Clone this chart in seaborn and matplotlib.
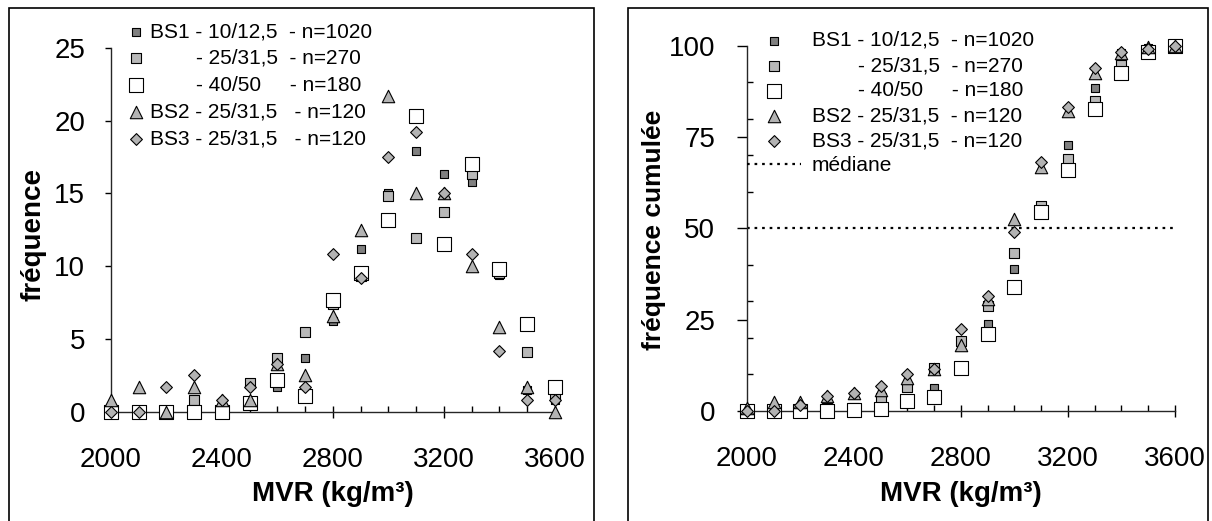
import numpy as np
import matplotlib
matplotlib.use("Agg")
import matplotlib.pyplot as plt
from matplotlib.patches import Rectangle
from matplotlib.ticker import MultipleLocator
import seaborn as sns

# ---------- data ----------
mvr = [2000, 2100, 2200, 2300, 2400, 2500, 2600, 2700, 2800,
       2900, 3000, 3100, 3200, 3300, 3400, 3500, 3600]

# frequency (%) per class
bs1_10 = [0, 0, 0, 0, 0, 0.7, 1.7, 3.7, 6.2, 11.2, 15.0, 17.9, 16.3, 15.8, 9.4, 1.5, 0.8]
bs1_25 = [0, 0, 0, 0.8, 0, 2.0, 3.7, 5.5, 7.4, 9.3, 14.8, 11.9, 13.7, 16.3, 9.5, 4.1, 1.2]
bs1_40 = [0, 0, 0, 0, 0, 0.6, 2.2, 1.1, 7.7, 9.5, 13.2, 20.3, 11.5, 17.0, 9.8, 6.0, 1.7]
bs2_25 = [0.8, 1.7, 0, 1.7, 0.8, 0.8, 3.3, 2.5, 6.6, 12.5, 21.7, 15.0, 15.0, 10.0, 5.8, 1.7, 0]
bs3_25 = [0, 0, 1.7, 2.5, 0.8, 1.7, 3.3, 1.7, 10.8, 9.2, 17.5, 19.2, 15.0, 10.8, 4.2, 0.8, 0.8]

# cumulative frequency (%)
cum_bs1_10 = [0, 0, 0, 0, 0, 0.7, 2.4, 6.4, 12.3, 23.8, 38.8, 56.2, 72.8, 88.5, 97.9, 99.3, 100]
cum_bs1_25 = [0, 0, 0, 0.8, 0.8, 3.5, 6.7, 11.9, 19.2, 28.7, 43.3, 56.2, 68.9, 84.9, 94.7, 98.6, 100]
cum_bs1_40 = [0, 0, 0, 0, 0.3, 0.5, 2.8, 3.9, 11.7, 21.1, 34.0, 54.4, 66.0, 82.7, 92.4, 98.4, 100]
cum_bs2_25 = [0.8, 2.5, 2.5, 4.2, 5.0, 5.8, 9.1, 11.6, 18.1, 30.6, 52.5, 66.9, 82.0, 92.4, 97.9, 99.7, 100]
cum_bs3_25 = [0, 0, 1.6, 4.2, 5.0, 6.8, 10.1, 11.5, 22.4, 31.6, 49.1, 68.2, 83.3, 94.0, 98.4, 99.1, 100]
median_level = 50

labels_left = ["BS1 - 10/12,5  - n=1020",
               "        - 25/31,5  - n=270",
               "        - 40/50     - n=180",
               "BS2 - 25/31,5   - n=120",
               "BS3 - 25/31,5   - n=120"]
labels_right = ["BS1 - 10/12,5  - n=1020",
                "        - 25/31,5  - n=270",
                "        - 40/50     - n=180",
                "BS2 - 25/31,5  - n=120",
                "BS3 - 25/31,5  - n=120"]

# marker styles: (marker, size, fill)
styles = [("s", 28, "#808080"),
          ("s", 58, "#b8b8b8"),
          ("s", 90, "#ffffff"),
          ("^", 80, "#b3b3b3"),
          ("D", 36, "#b3b3b3")]

sns.set_style("ticks")
plt.rcParams.update({
    "font.family": ["Liberation Sans", "DejaVu Sans"],
    "axes.linewidth": 1.0,
    "text.color": "black", "axes.labelcolor": "black",
    "xtick.color": "black", "ytick.color": "black",
})

fig = plt.figure(figsize=(12.12, 5.21), dpi=100)
ax1 = fig.add_axes([0.0801, 0.1818, 0.3892, 0.7825])
ax2 = fig.add_axes([0.6053, 0.1831, 0.3752, 0.7852])

# panel frames (open at the bottom, like the cropped original)
for x0, x1 in [(9, 594), (628, 1208)]:
    fig.add_artist(Rectangle((x0 / 1212, -0.1), (x1 - x0) / 1212, 1.1 - 7.5 / 521,
                             transform=fig.transFigure, fill=False,
                             lw=1.2, ec="black"))


def draw(ax, series, labels):
    for y, lab, (mk, sz, fc) in zip(series, labels, styles):
        sns.scatterplot(x=mvr, y=y, marker=mk, s=sz, color=fc, edgecolor="black",
                        linewidth=0.8, ax=ax, label=lab, zorder=3, clip_on=False)


def style_axes(ax, ymax, ylim, ymajor, ymaj_len, ymaj_pad, yminor=None):
    ax.set_xlim(1950, 3650)
    ax.set_ylim(*ylim)
    for s in ["top", "right"]:
        ax.spines[s].set_visible(False)
    ax.spines["left"].set_position(("data", 2000))
    ax.spines["left"].set_bounds(0, ymax)
    ax.spines["bottom"].set_position(("data", 0))
    ax.spines["bottom"].set_bounds(2000, 3600)
    ax.xaxis.set_major_locator(MultipleLocator(400))
    ax.xaxis.set_minor_locator(MultipleLocator(100))
    ax.yaxis.set_major_locator(MultipleLocator(ymajor))
    if yminor:
        ax.yaxis.set_minor_locator(MultipleLocator(yminor))
        ax.tick_params(axis="y", which="minor", direction="in", length=4.5, width=1)
    ax.tick_params(axis="x", which="major", direction="inout", length=9, width=1,
                   pad=21, labelsize=20)
    ax.tick_params(axis="x", which="minor", direction="in", length=4.5, width=1)
    ax.tick_params(axis="y", which="major", direction="out", length=ymaj_len, width=1,
                   pad=ymaj_pad, labelsize=20)
    ax.set_xlabel("MVR (kg/m³)", fontsize=20, fontweight="bold")
    ax.xaxis.set_label_coords(0.5, -0.135)


# ---------- left: frequency ----------
draw(ax1, [bs1_10, bs1_25, bs1_40, bs2_25, bs3_25], labels_left)
style_axes(ax1, 25, (-1, 27), 5, 4.5, 14)
ax1.set_ylabel("fréquence", fontsize=20, fontweight="bold")
ax1.yaxis.set_label_coords(-0.108, 0.47)
ax1.legend(loc="upper left", bbox_to_anchor=(129 / 1212, 1 - 22 / 521),
           bbox_transform=fig.transFigure, frameon=False, fontsize=15,
           handlelength=0.7, handletextpad=0.3, labelspacing=0.38,
           borderpad=0, borderaxespad=0)

# ---------- right: cumulative frequency ----------
draw(ax2, [cum_bs1_10, cum_bs1_25, cum_bs1_40, cum_bs2_25, cum_bs3_25], labels_right)
ax2.hlines(median_level, mvr[0], mvr[-1], colors="black", linestyles=(0, (1.2, 2.2)),
           linewidth=1.6, zorder=2, label="médiane")
style_axes(ax2, 100, (-4, 108), 25, 7, 16, yminor=10)
ax2.set_ylabel("fréquence cumulée", fontsize=19, fontweight="bold")
ax2.yaxis.set_label_coords(-0.148, 0.478)
ax2.legend(loc="upper left", bbox_to_anchor=(747 / 1212, 1 - 31 / 521),
           bbox_transform=fig.transFigure, frameon=False, fontsize=15,
           handlelength=2.6, handletextpad=0.5, labelspacing=0.29,
           borderpad=0, borderaxespad=0)

fig.savefig("out.png", dpi=100)
